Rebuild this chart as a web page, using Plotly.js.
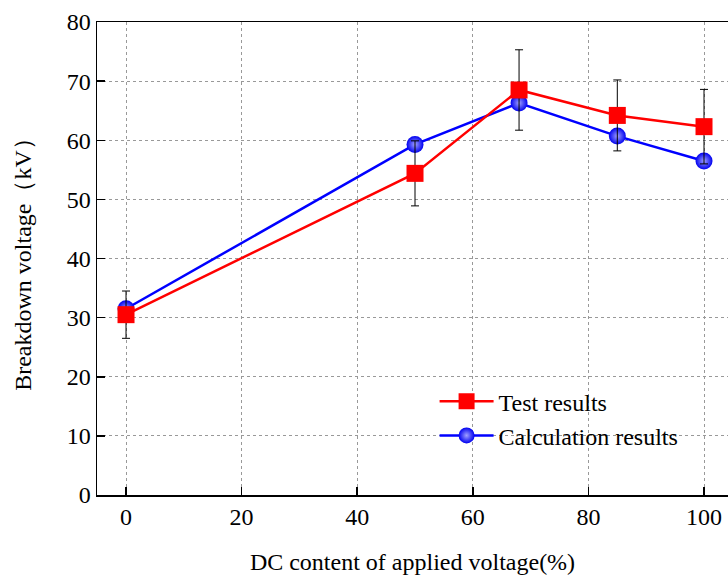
<!DOCTYPE html>
<html>
<head>
<meta charset="utf-8">
<script src="https://cdn.plot.ly/plotly-3.0.1.min.js"></script>
<style>html,body{margin:0;padding:0;background:#fff;}</style>
</head>
<body>
<div id="chart" style="width:728px;height:575px;"></div>
<script>
var dcContent = [0, 50, 68, 85, 100];
var testResults = [30.5, 54.4, 68.5, 64.2, 62.3];
var testErrors = [4.0, 5.5, 6.8, 6.0, 6.3];
var calcResults = [31.5, 59.3, 66.3, 60.7, 56.5];
var xTicks = [0, 20, 40, 60, 80, 100];
var yTicks = [0, 10, 20, 30, 40, 50, 60, 70, 80];

var fam = 'Liberation Serif, Times New Roman, serif';
var font = {family: fam, size: 24, color: '#000'};

var calcTrace = {
  x: dcContent, y: calcResults, type: 'scatter', mode: 'lines+markers',
  name: 'Calculation results', legendrank: 2,
  line: {color: '#0000ff', width: 2.5},
  marker: {symbol: 'circle', size: 17, color: '#0000f0',
           gradient: {type: 'radial', color: '#a0a0ff'},
           line: {width: 0}}
};
var testTrace = {
  x: dcContent, y: testResults, type: 'scatter', mode: 'lines+markers',
  name: 'Test results', legendrank: 1,
  line: {color: '#ff0000', width: 2.5},
  marker: {symbol: 'square', size: 17, color: '#ff0000', line: {width: 0}},
  error_y: {type: 'data', array: testErrors, visible: true, color: '#000', thickness: 1, width: 4}
};

var layout = {
  width: 728, height: 575,
  margin: {l: 97, r: 0, t: 22, b: 80},
  paper_bgcolor: '#fff', plot_bgcolor: '#fff',
  font: font,
  showlegend: true,
  legend: {x: 0.535, y: 0.245, xanchor: 'left', yanchor: 'top', bgcolor: 'rgba(0,0,0,0)',
           font: font, itemwidth: 54, tracegroupgap: 0},
  xaxis: {
    range: [-5.02, 104.15], tickvals: xTicks, ticktext: xTicks.map(String),
    ticks: 'inside', ticklen: 8, tickwidth: 1.5, tickcolor: '#000',
    showline: true, linecolor: '#000', linewidth: 1.5, mirror: true,
    showgrid: true, gridcolor: '#999999', griddash: '3px,3px', gridwidth: 1,
    zeroline: false, tickfont: font,
    title: {text: 'DC content of applied voltage(%)', font: font, standoff: 30}
  },
  yaxis: {
    range: [0, 80], tickvals: yTicks, ticktext: yTicks.map(String),
    ticks: 'inside', ticklen: 8, tickwidth: 1.5, tickcolor: '#000',
    showline: true, linecolor: '#000', linewidth: 1.5, mirror: false,
    showgrid: true, gridcolor: '#999999', griddash: '3px,3px', gridwidth: 1,
    zeroline: false, tickfont: font,
    title: {text: 'Breakdown voltage（kV）', font: font, standoff: 28}
  }
};

Plotly.newPlot('chart', [calcTrace, testTrace], layout, {displayModeBar: false, staticPlot: true});
</script>
</body>
</html>
